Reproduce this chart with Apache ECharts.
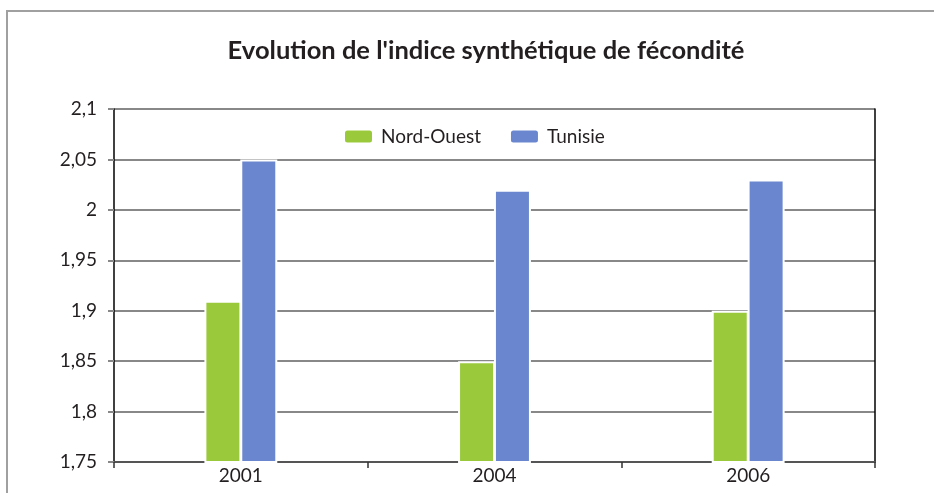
<!DOCTYPE html>
<html>
<head>
<meta charset="utf-8">
<script src="https://cdn.jsdelivr.net/npm/echarts@6/dist/echarts.min.js"></script>
<style>
html,body{margin:0;padding:0;background:#fff;}
#chart{width:934px;height:493px;}
</style>
</head>
<body>
<div id="chart"></div>
<script>
var years=['2001','2004','2006'];
var nordOuest=[1.91,1.85,1.90];
var tunisie=[2.05,2.02,2.03];

var mychart=echarts.init(document.getElementById('chart'));
mychart.setOption({
    title:{
        text:"Evolution de l'indice synthétique de fécondité",
        left:481,
        textAlign:'center',
        top:33,
        textStyle:{
            fontFamily:'Lato',
            fontWeight:'bold',
            fontSize:25.5,
            color:'#231f20'
        }
    },
    graphic:[{
        type:'rect',
        shape:{x:7,y:11,width:1000,height:600},
        style:{fill:'none',stroke:'#a0a0a0',lineWidth:2},
        silent:true
    }],
    legend:{
        top:122,
        left:338,
        itemWidth:29,
        itemHeight:14,
        itemGap:28,
        textStyle:{fontFamily:'Lato',fontSize:19,color:'#231f20',padding:[0,0,0,3]},
        data:['Nord-Ouest','Tunisie']
    },
    grid:{left:114,right:59,top:109,bottom:31},
    xAxis:{
        type:'category',
        data:years,
        axisLine:{lineStyle:{color:'#555',width:2}},
        axisTick:{show:true,length:6,lineStyle:{color:'#333',width:1.5}},
        axisLabel:{fontFamily:'Lato',fontSize:19,color:'#231f20',margin:4}
    },
    yAxis:[{
        type:'value',
        min:1.75,
        max:2.1,
        interval:0.05,
        axisLine:{show:true,lineStyle:{color:'#000',width:1.5}},
        axisTick:{show:true,length:6,lineStyle:{color:'#888',width:2}},
        axisLabel:{
            fontFamily:'Lato',fontSize:19,color:'#231f20',margin:17,
            formatter:function(v){return String(Number(v.toFixed(2))).replace('.',',');}
        },
        splitLine:{show:true,lineStyle:{color:'#888',width:2}}
    },{
        type:'value',
        position:'right',
        min:1.75,
        max:2.1,
        interval:0.05,
        axisLine:{show:true,lineStyle:{color:'#000',width:1.5}},
        axisTick:{show:false},
        axisLabel:{show:false},
        splitLine:{show:false}
    }],
    series:[{
        name:'Nord-Ouest',
        type:'bar',
        barWidth:37,
        barGap:'-3%',
        data:nordOuest,
        itemStyle:{color:'#9aca3c',borderColor:'#fff',borderWidth:2}
    },{
        name:'Tunisie',
        type:'bar',
        barWidth:37,
        barGap:'-3%',
        data:tunisie,
        itemStyle:{color:'#6a86ce',borderColor:'#fff',borderWidth:2}
    }]
});
</script>
</body>
</html>
